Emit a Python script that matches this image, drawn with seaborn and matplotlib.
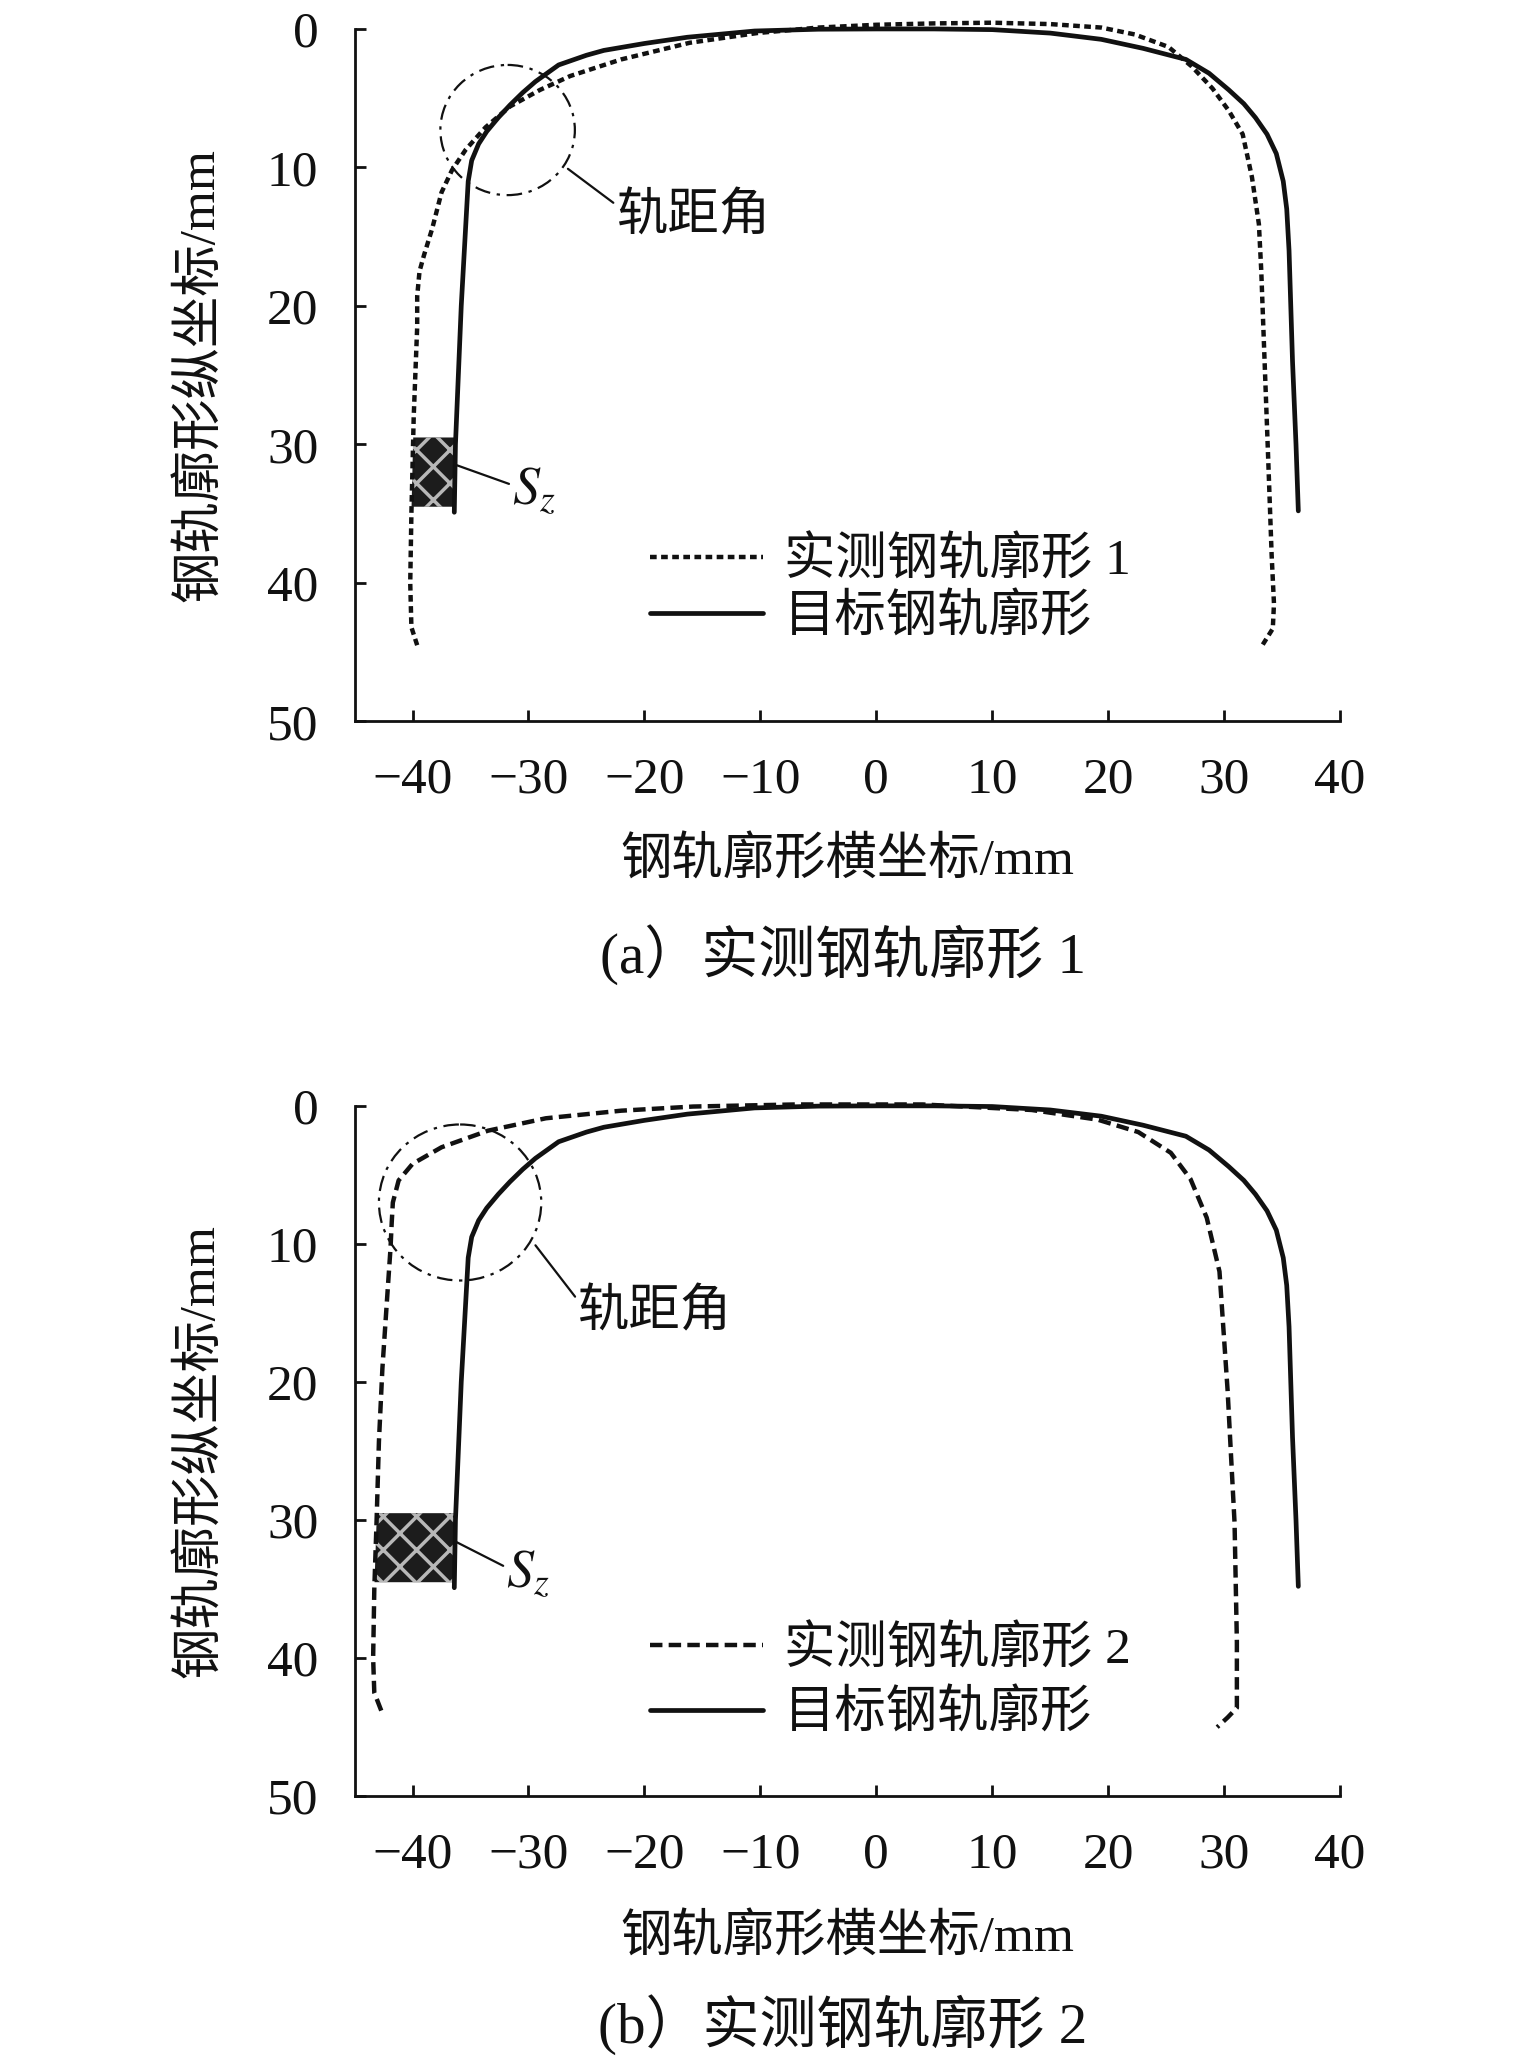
import numpy as np
import matplotlib
matplotlib.use("Agg")
import matplotlib.pyplot as plt
import seaborn as sns
from matplotlib.patches import Ellipse

# Gaya dasar
sns.set_theme(style="ticks")
plt.rcParams['font.family'] = ['Liberation Serif', 'Noto Sans CJK SC']
plt.rcParams['mathtext.fontset'] = 'stix'
plt.rcParams['axes.unicode_minus'] = True
plt.rcParams['hatch.linewidth'] = 2.5

# Data: target rail profile (same in both panels)
target_x = [-36.4, -36.3, -35.8, -35.4, -35.2, -34.9, -34.3, -33.6, -32.6, -31.6, -30.5, -29.4,
            -27.4, -25.0, -23.5, -20.0, -16.3, -10.5, -5.0, 0.0, 5.0, 10.0, 15.0, 19.4, 23.0,
            26.7, 28.7, 30.4, 31.7, 32.7, 33.7, 34.5, 35.1, 35.4, 35.6, 35.9, 36.2, 36.4]
target_y = [34.9, 30.0, 20.0, 14.0, 11.0, 9.5, 8.3, 7.4, 6.4, 5.5, 4.6, 3.8,
            2.6, 1.9, 1.55, 1.05, 0.6, 0.15, 0.02, 0.0, 0.0, 0.05, 0.3, 0.75, 1.4,
            2.2, 3.2, 4.4, 5.4, 6.4, 7.6, 9.0, 11.0, 13.0, 16.0, 24.0, 30.0, 34.8]

# measured profile 1
meas1_x = [-39.6, -40.1, -40.2, -40.1, -39.9, -39.6, -39.6, -39.4, -39.0, -38.3, -37.5, -36.6,
           -35.4, -33.7, -31.6, -29.0, -26.4, -22.0, -16.1, -10.3, -5.0, 0.0, 5.0, 10.0, 15.0,
           19.4, 22.3, 25.2, 27.2, 29.0, 30.4, 31.6, 32.4, 33.0, 33.2, 33.5, 33.8, 34.1, 34.3,
           34.2, 33.3]
meas1_y = [44.5, 43.2, 40.0, 35.0, 28.0, 21.5, 19.3, 17.5, 16.3, 14.4, 11.8, 10.2,
           8.7, 7.1, 5.6, 4.4, 3.4, 2.2, 1.0, 0.3, -0.1, -0.3, -0.4, -0.45, -0.35,
           -0.1, 0.4, 1.3, 2.7, 4.3, 5.9, 7.6, 10.7, 14.1, 17.4, 24.2, 31.0, 38.0, 41.5,
           43.3, 44.5]

# measured profile 2
meas2_x = [-42.7, -43.3, -43.4, -43.3, -43.1, -42.9, -42.6, -42.2, -41.9, -41.8, -41.7, -41.2,
           -40.0, -37.5, -33.5, -28.5, -22.0, -15.8, -7.0, 4.0, 13.4, 19.1, 22.6, 25.4, 27.1,
           28.5, 29.6, 30.3, 30.9, 31.1, 31.1, 30.3, 29.4]
meas2_y = [43.8, 42.5, 40.0, 35.0, 30.0, 24.3, 19.0, 14.0, 10.3, 8.5, 7.0, 5.4,
           4.2, 3.0, 1.8, 0.9, 0.35, 0.05, -0.1, -0.1, 0.3, 1.0, 1.9, 3.4, 5.3,
           8.1, 12.0, 20.6, 30.2, 38.8, 43.6, 44.3, 45.0]

x_ticks = [-40, -30, -20, -10, 0, 10, 20, 30, 40]
y_ticks = [0, 10, 20, 30, 40, 50]
sz_range = [29.5, 34.5]

panels = [
    dict(mx=meas1_x, my=meas1_y, label='实测钢轨廓形 1', ls=(0, (1.5, 1.0)),
         caption='(a）实测钢轨廓形 1',
         circle=(-31.8, 7.3, 11.6, 9.4), gauge_xy=(-26.6, 10.1), gauge_txt=(-22.4, 13.6),
         sz_xy=(-36.2, 31.5), sz_txt=(-31.4, 33.3), leg_y=0.19, leg_sp=0.17),
    dict(mx=meas2_x, my=meas2_y, label='实测钢轨廓形 2', ls=(0, (2.8, 1.4)),
         caption='(b）实测钢轨廓形 2',
         circle=(-35.9, 7.0, 14.0, 11.3), gauge_xy=(-29.4, 10.1), gauge_txt=(-25.7, 15.0),
         sz_xy=(-36.2, 31.6), sz_txt=(-31.9, 33.8), leg_y=0.165, leg_sp=0.32),
]

fig = plt.figure(figsize=(15.35, 20.67), dpi=100)
axes_pos = [[0.231, 0.651, 0.642, 0.335], [0.231, 0.131, 0.642, 0.334]]
xlabel_y = [0.583, 0.062]
caption_y = [0.538, 0.0205]

FS = 37

for i, p in enumerate(panels):
    ax = fig.add_axes(axes_pos[i])

    # Sz region between measured and target profile (left side)
    yy = np.linspace(sz_range[0], sz_range[1], 30)
    mx = np.array(p['mx']); my = np.array(p['my'])
    left_m = mx < -30
    order = np.argsort(my[left_m][:6])
    xm = np.interp(yy, my[left_m][:6][order], mx[left_m][:6][order])
    tx = np.array(target_x); ty = np.array(target_y)
    left_t = tx < -35
    order_t = np.argsort(ty[left_t])
    xt = np.interp(yy, ty[left_t][order_t], tx[left_t][order_t])
    ax.fill_betweenx(yy, xm, xt, facecolor='#1c1c1c', edgecolor='#b8b8b8', hatch='x', lw=0)

    sns.lineplot(x=p['mx'], y=p['my'], sort=False, estimator=None, ax=ax, color='#111111',
                 lw=3.2, linestyle=p['ls'], label=p['label'], clip_on=False)
    sns.lineplot(x=target_x, y=target_y, sort=False, estimator=None, ax=ax, color='#111111',
                 lw=3.4, label='目标钢轨廓形', clip_on=False)

    cx, cy, w, h = p['circle']
    ax.add_patch(Ellipse((cx, cy), w, h, fill=False, ec='#111111', lw=1.6,
                         ls=(0, (7, 3, 1.5, 3))))

    ax.annotate('轨距角', xy=p['gauge_xy'], xytext=p['gauge_txt'], fontsize=FS,
                ha='left', va='center', color='#111111',
                arrowprops=dict(arrowstyle='-', lw=1.6, color='#111111',
                                shrinkA=0, shrinkB=0, relpos=(0, 0.75)))
    ax.annotate('$S_z$', xy=p['sz_xy'], xytext=p['sz_txt'], fontsize=FS + 2,
                ha='left', va='center', color='#111111',
                arrowprops=dict(arrowstyle='-', lw=1.6, color='#111111',
                                shrinkA=0, shrinkB=0, relpos=(0, 0.6)))

    ax.set_xlim(-45, 40)
    ax.set_ylim(50, 0)
    ax.set_xticks(x_ticks)
    ax.set_yticks(y_ticks)
    sns.despine(ax=ax)
    for s in ['left', 'bottom']:
        ax.spines[s].set_linewidth(2.0)
        ax.spines[s].set_color('#111111')
    ax.tick_params(direction='in', length=8, width=2.0, colors='#111111',
                   labelsize=FS, pad=26)
    ax.set_xlabel('')
    ax.set_ylabel('钢轨廓形纵坐标/mm', fontsize=FS, labelpad=30, color='#111111')

    leg = ax.legend(loc='center left', bbox_to_anchor=(0.30, p['leg_y']), frameon=False,
                    fontsize=FS, handlelength=2.2, handletextpad=0.4, borderpad=0,
                    borderaxespad=0, labelspacing=p['leg_sp'])
    for t in leg.get_texts():
        t.set_color('#111111')

    fig.text(0.552, xlabel_y[i], '钢轨廓形横坐标/mm', fontsize=FS, ha='center', va='center',
             color='#111111')
    fig.text(0.549, caption_y[i], p['caption'], fontsize=FS + 4, ha='center', va='center',
             color='#111111')

fig.savefig('out.png', dpi=100)
